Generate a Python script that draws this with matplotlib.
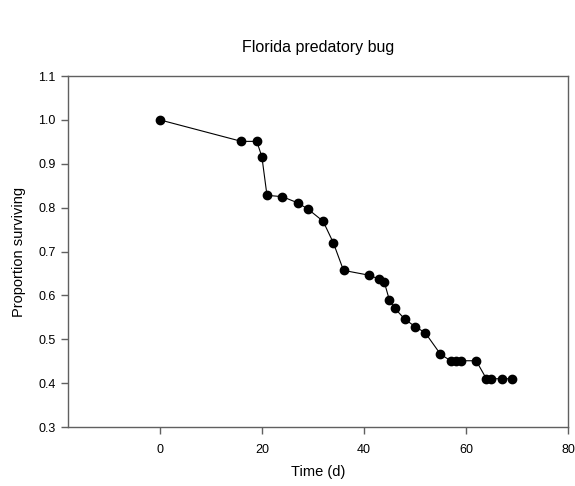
import matplotlib
matplotlib.use("Agg")
import matplotlib.pyplot as plt

plt.rcParams['font.family'] = ['Liberation Sans', 'DejaVu Sans']

time_d = [0, 16, 19, 20, 21, 24, 27, 29, 32, 34, 36, 41, 43, 44, 45, 46,
          48, 50, 52, 55, 57, 58, 59, 62, 64, 65, 67, 69]
surviving = [1.0, 0.951, 0.951, 0.916, 0.828, 0.825, 0.811, 0.797, 0.769,
             0.720, 0.657, 0.646, 0.637, 0.630, 0.589, 0.571, 0.546, 0.529,
             0.515, 0.466, 0.451, 0.451, 0.451, 0.451, 0.410, 0.410, 0.410, 0.410]

xticks = [0, 20, 40, 60, 80]
yticks = [0.3, 0.4, 0.5, 0.6, 0.7, 0.8, 0.9, 1.0, 1.1]

fig = plt.figure(figsize=(5.75, 4.86), dpi=100)
ax = fig.add_axes([68/575, 1-427/486, 500/575, 351/486])
ax.plot(time_d, surviving, color='black', lw=0.8, marker='o', ms=6,
        mfc='black', mec='black')
ax.set_xlim(-18, 80)
ax.set_ylim(0.3, 1.1)
ax.set_xticks(xticks)
ax.set_xticklabels([str(t) for t in xticks])
ax.set_yticks(yticks)
ax.set_yticklabels([f"{t:.1f}" for t in yticks])
for s in ax.spines.values():
    s.set_color('#606060')
    s.set_linewidth(1.0)
ax.tick_params(direction='out', length=5, width=1.0, color='#606060',
               labelsize=9, pad=4)
ax.tick_params(axis='x', pad=7)
ax.set_xlabel('Time (d)', fontsize=10.5, labelpad=7)
ax.set_ylabel('Proportion surviving', fontsize=10.5, labelpad=9)
fig.text(318/575, 1-47/486, 'Florida predatory bug', ha='center', va='center', fontsize=11.5)
fig.savefig('out.png', dpi=100)
